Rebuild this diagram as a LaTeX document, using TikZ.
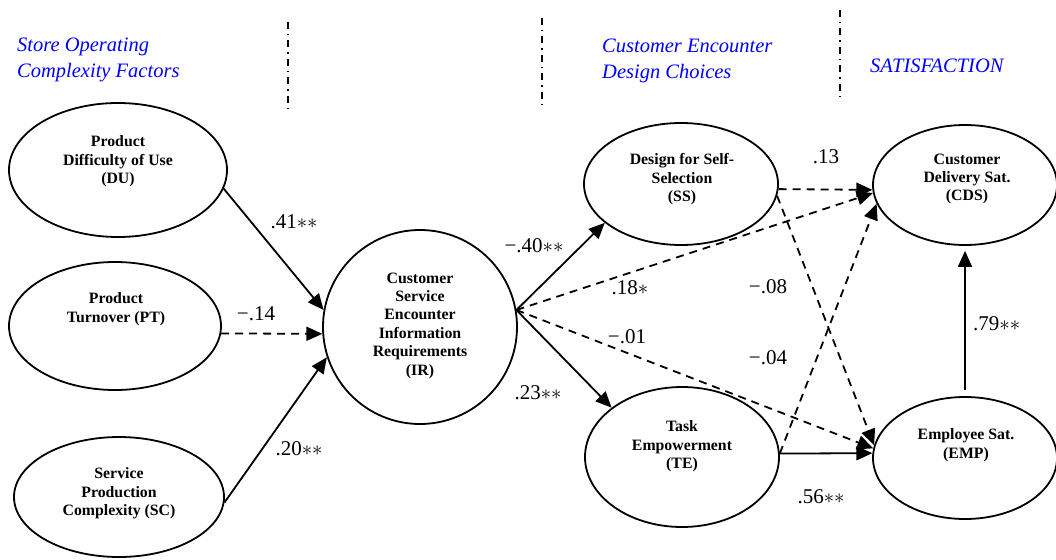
\documentclass[tikz,border=0pt]{standalone}
\usepackage{fontspec}
\setmainfont{Liberation Serif}
\usetikzlibrary{shapes.geometric,arrows.meta}

\begin{document}
\begin{tikzpicture}[x=1pt,y=-1pt,
  latent/.style={draw, ellipse, line width=1.8pt, inner sep=0pt},
  nodetext/.style={anchor=north, align=center, inner sep=0pt,
    font=\bfseries\fontsize{15.8}{18.4}\selectfont},
  header/.style={text=blue, inner sep=0pt, align=left,
    font=\itshape\fontsize{20.5}{26}\selectfont},
  coef/.style={anchor=base, inner sep=0pt, font=\fontsize{21}{24}\selectfont},
  causal/.style={line width=1.8pt, -{Triangle[length=16pt,width=14pt]}},
  weakpath/.style={causal, dash pattern=on 8pt off 6pt},
  divider/.style={line width=1.8pt, dash pattern=on 7pt off 5pt on 1.5pt off 5pt}
]
\useasboundingbox (0,0) rectangle (1056,559);

% column headings and separators
\node[header, anchor=north west] (hstore) at (17,38) {Store Operating\\Complexity Factors};
\node[header, anchor=north west] (hdesign) at (602,39) {Customer Encounter\\Design Choices};
\node[header, anchor=base west] (hsat) at (870,73) {SATISFACTION};
\draw[divider] (288,22) -- (288,113);
\draw[divider] (542,18) -- (542,108);
\draw[divider] (840,10) -- (840,100);

% latent constructs
\node[latent, minimum width=218pt, minimum height=134pt] (DU) at (118,170) {};
\node[latent, minimum width=212pt, minimum height=128pt] (PT) at (115,326) {};
\node[latent, minimum width=210pt, minimum height=120pt] (SC) at (119,497) {};
\node[draw, circle, line width=1.8pt, inner sep=0pt, minimum size=194pt] (IR) at (420,327) {};
\node[latent, minimum width=194pt, minimum height=122pt] (SS) at (681,184) {};
\node[latent, minimum width=184pt, minimum height=120pt] (CDS) at (965,185) {};
\node[latent, minimum width=194pt, minimum height=140pt] (TE) at (682,457) {};
\node[latent, minimum width=184pt, minimum height=122pt] (EMP) at (965,458) {};

% construct names
\node[nodetext] (DUt) at (118,135.5) {Product\\Difficulty of Use\\(DU)};
\node[nodetext] (PTt) at (116,292.5) {Product\\Turnover (PT)};
\node[nodetext] (SCt) at (119,467.5) {Service\\Production\\Complexity (SC)};
\node[nodetext] (IRt) at (420,272.5) {Customer\\Service\\Encounter\\Information\\Requirements\\(IR)};
\node[nodetext] (SSt) at (682,153.5) {Design for Self-\\Selection\\(SS)};
\node[nodetext] (CDSt) at (967,153.5) {Customer\\Delivery Sat.\\(CDS)};
\node[nodetext] (TEt) at (682,420.5) {Task\\Empowerment\\(TE)};
\node[nodetext] (EMPt) at (966,428.5) {Employee Sat.\\(EMP)};

% structural paths
\draw[causal] (DU.-10) -- (IR.170);
\draw[weakpath] (PT.-4) -- (IR.184);
\draw[causal] (SC.-3) -- (IR.198);
\coordinate (IRout) at (IR.10);
\draw[causal] (IRout) -- (SS.207);
\draw[causal] (IRout) -- (TE.145);
\draw[weakpath] (IRout) -- (CDS.185);
\draw[weakpath] (IRout) -- (EMP.174);
\draw[weakpath] (SS.-3) -- (CDS.183);
\draw[weakpath] (SS.-7) -- (EMP.172);
\draw[weakpath] (TE.2) -- (CDS.192);
\draw[causal] (TE.2) -- (EMP.177);
\draw[causal, shorten <=6pt, shorten >=5pt] (EMP.north) -- (CDS.south);

% path coefficients
\node[coef] (c1) at (294,228) {.41$\ast\ast$};
\node[coef] (c2) at (256,320) {−.14};
\node[coef] (c3) at (299,455) {.20$\ast\ast$};
\node[coef] (c4) at (534,252) {−.40$\ast\ast$};
\node[coef] (c5) at (538,399) {.23$\ast\ast$};
\node[coef] (c6) at (826,163) {.13};
\node[coef] (c7) at (630,294) {.18$\ast$};
\node[coef] (c8) at (768,293) {−.08};
\node[coef] (c9) at (627,343) {−.01};
\node[coef] (c10) at (768,364) {−.04};
\node[coef] (c11) at (821,503) {.56$\ast\ast$};
\node[coef, anchor=base west] (c12) at (973,330) {.79$\ast\ast$};
\end{tikzpicture}
\end{document}
